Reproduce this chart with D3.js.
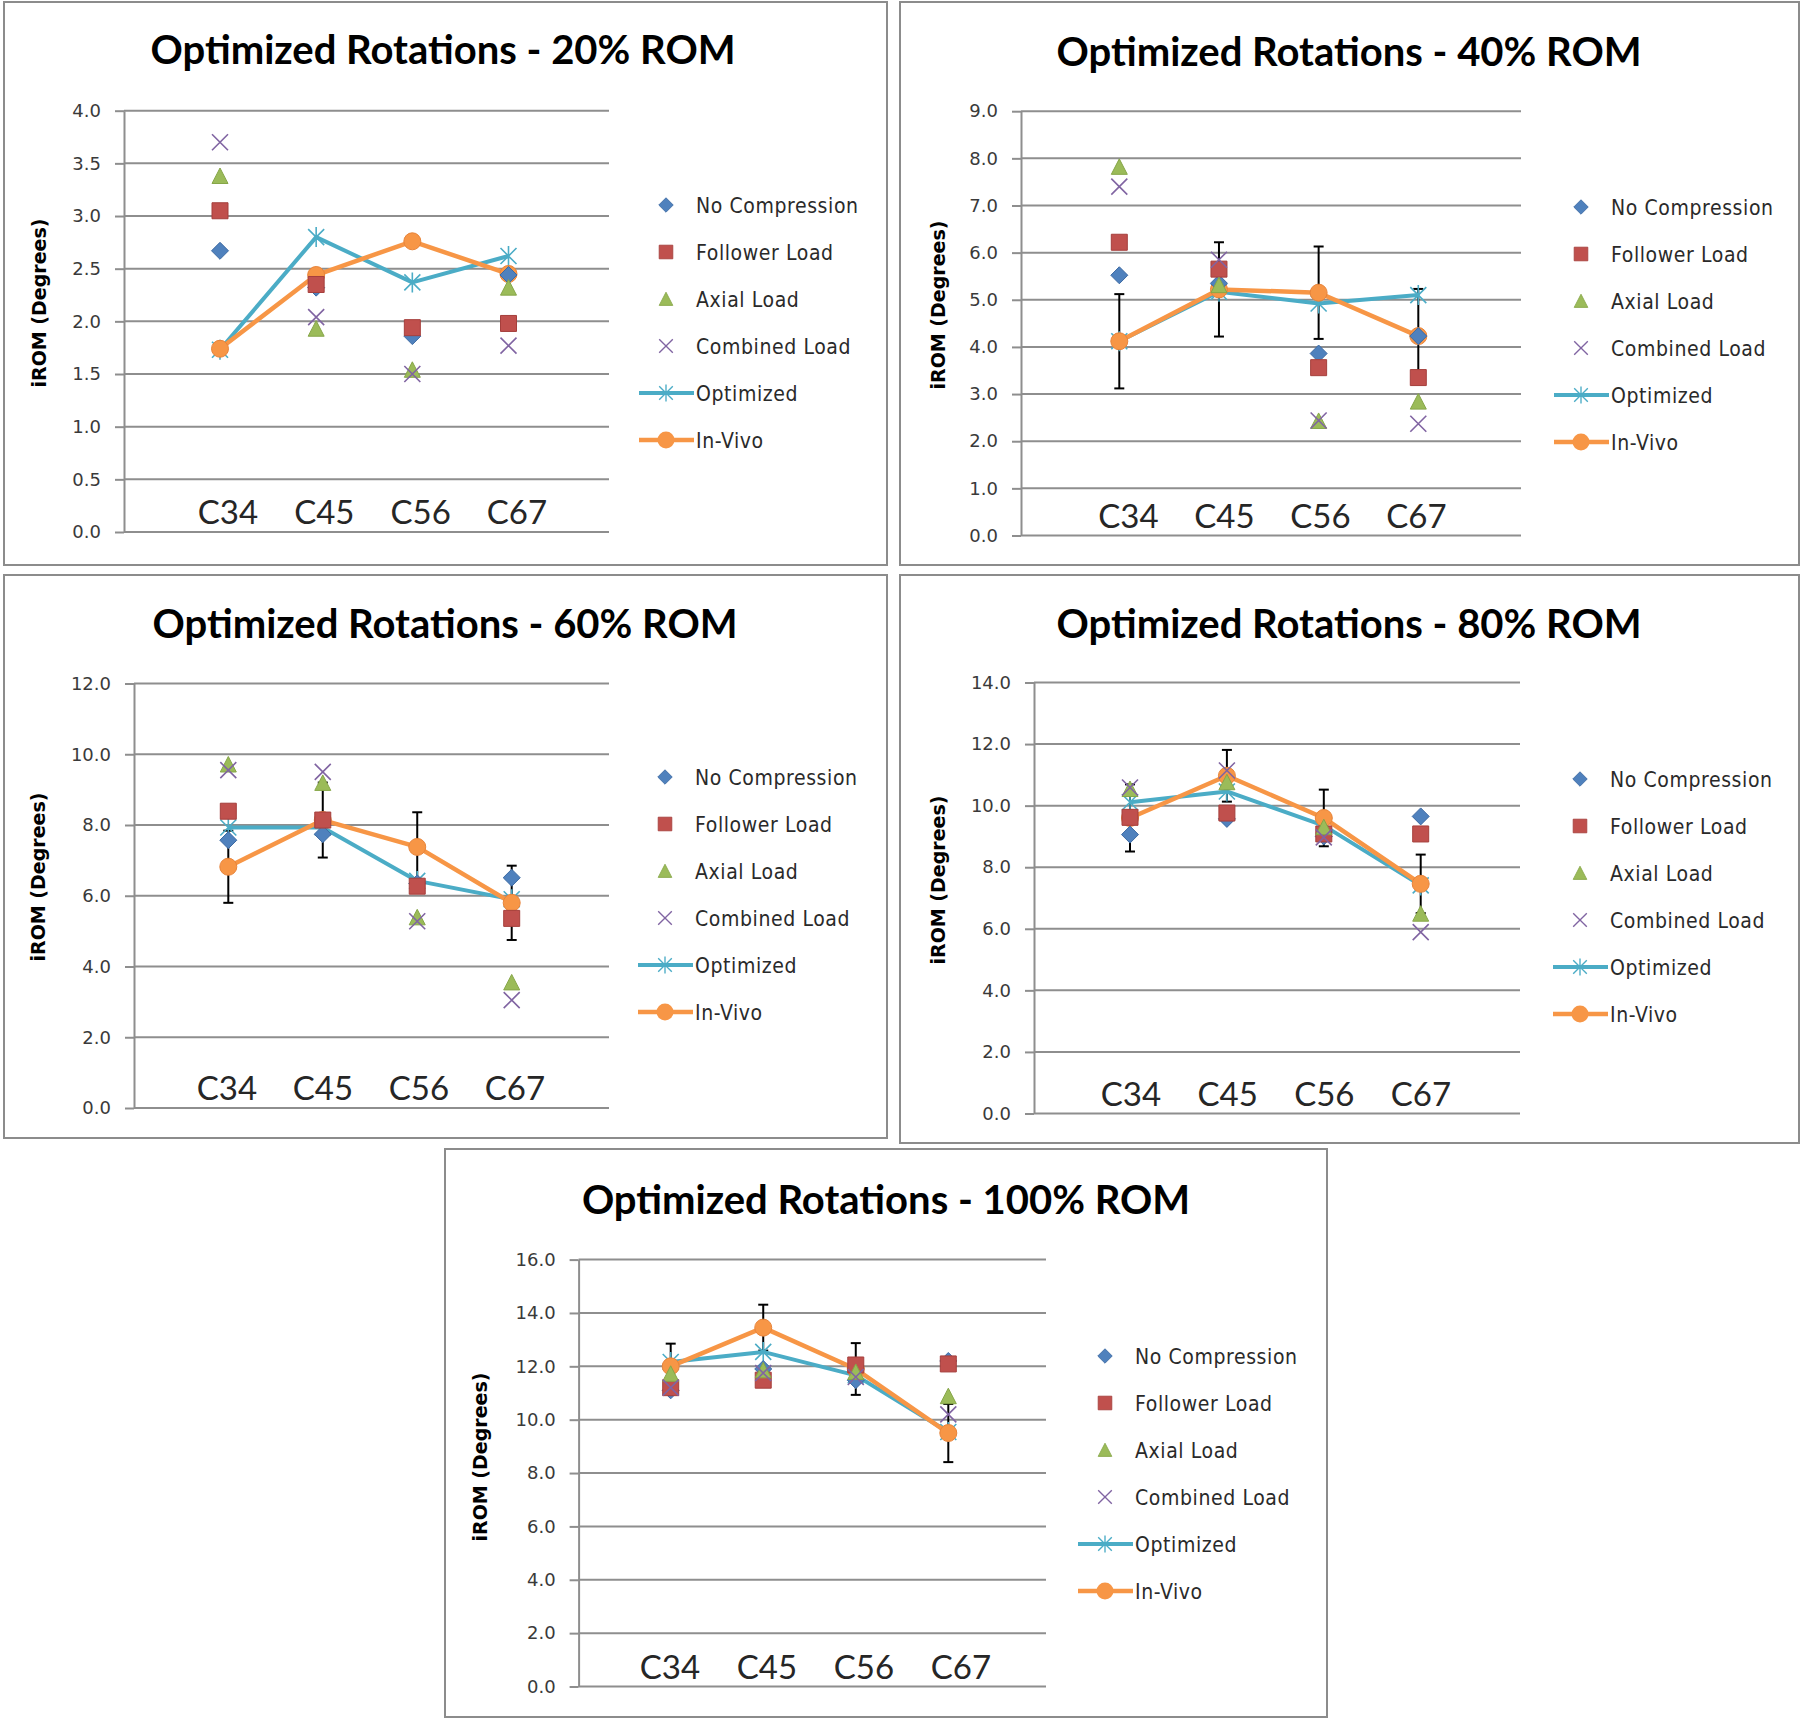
<!DOCTYPE html>
<html><head><meta charset="utf-8">
<script src="https://cdn.jsdelivr.net/npm/d3@7"></script>
<style>body{margin:0;background:#fff} svg{display:block}</style>
</head><body>
<svg id="chart" width="1800" height="1718"></svg>
<script>
// ---------- DATA ----------
const categories = ["C34", "C45", "C56", "C67"];
const romLevels = ["20%", "40%", "60%", "80%", "100%"];
const seriesNames = ["No Compression", "Follower Load", "Axial Load", "Combined Load", "Optimized", "In-Vivo"];
const yMax = [4, 9, 12, 14, 16];
const yStep = [0.5, 1, 2, 2, 2];

const noCompression = [[2.67, 2.32, 1.86, 2.44], [5.52, 5.35, 3.86, 4.23], [7.57, 7.74, 6.35, 6.51], [9.06, 9.57, 9.00, 9.65], [11.10, 11.90, 11.48, 12.20]];
const followerLoad  = [[3.05, 2.35, 1.94, 1.98], [6.22, 5.65, 3.56, 3.35], [8.39, 8.14, 6.27, 5.36], [9.62, 9.76, 9.08, 9.08], [11.20, 11.48, 12.05, 12.09]];
const axialLoad     = [[3.38, 1.93, 1.54, 2.32], [7.82, 5.31, 2.43, 2.84], [9.71, 9.19, 5.39, 3.55], [10.54, 10.76, 9.30, 6.49], [11.72, 11.85, 11.79, 10.88]];
const combinedLoad  = [[3.70, 2.04, 1.50, 1.77], [7.40, 5.85, 2.44, 2.37], [9.55, 9.50, 5.28, 3.05], [10.59, 11.14, 8.97, 5.89], [11.20, 11.75, 11.60, 10.20]];
const optimized     = [[1.73, 2.80, 2.37, 2.62], [4.12, 5.17, 4.92, 5.10], [7.93, 7.93, 6.42, 5.90], [10.11, 10.46, 9.35, 7.41], [12.16, 12.54, 11.66, 9.54]];
const inVivo        = [[1.74, 2.44, 2.76, 2.45], [4.12, 5.22, 5.15, 4.23], [6.82, 8.14, 7.38, 5.80], [9.60, 10.97, 9.60, 7.46], [12.00, 13.45, 11.90, 9.50]];
const inVivoError   = [null, [1.00, 1.00, 0.98, 1.00], [1.02, 1.06, 0.98, 1.05], [1.09, 0.84, 0.92, 0.95], [0.85, 0.86, 0.97, 1.09]];

// ---------- LAYOUT ----------
const panelBox   = [[4, 2, 887, 565], [900, 2, 1799, 565], [4, 575, 887, 1138], [900, 575, 1799, 1143], [445, 1149, 1327, 1717]];
const plotAxisX  = [124, 1021, 134, 1034, 578.6];
const plotRight  = [609, 1521, 609, 1520, 1046];
const plotTop    = [110.7, 111.2, 683.5, 682.5, 1259.6];
const plotBottom = [532, 535.5, 1108, 1113.5, 1686.5];
const catFirst   = [220, 1119.3, 228.3, 1130, 670.7];
const catLast    = [508.5, 1418.3, 511.7, 1420.7, 948.3];
const labelFirst = [228, 1128.5, 227, 1131, 670];
const labelLast  = [517, 1416.5, 515, 1421, 961];
const titleCx    = [443, 1349, 445, 1349, 886];
const titleBase  = [64, 66, 637.6, 637.5, 1214];
const yTitleX    = [39, 938, 38, 938, 480];
const yTitleCy   = [303, 305, 877, 880, 1457];
const legendX    = [666, 1581, 665, 1580, 1105];
const legendY0   = [205, 207, 777, 779, 1356];
const legendStep = 47;

const colors = {blue: "#4F81BD", red: "#C0504D", green: "#9BBB59", purple: "#8064A2", teal: "#4BACC6", orange: "#F79646"};

const shapes = {
  diamond: "M0,-8.5L8.5,0L0,8.5L-8.5,0Z",
  square: "M-8,-8H8V8H-8Z",
  triangle: "M0,-8L8,7.5L-8,7.5Z",
  cross: "M-8,-8L8,8M8,-8L-8,8",
  star: "M-8,-8L8,8M8,-8L-8,8M0,-10V10"
};

function drawMarker(sel, kind) {
  if (kind === "diamond") sel.attr("d", shapes.diamond).attr("fill", colors.blue).attr("stroke", "#3d6aa3").attr("stroke-width", 1);
  else if (kind === "square") sel.attr("d", shapes.square).attr("fill", colors.red).attr("stroke", "#a53f3c").attr("stroke-width", 1);
  else if (kind === "triangle") sel.attr("d", shapes.triangle).attr("fill", colors.green).attr("stroke", "#86a648").attr("stroke-width", 1);
  else if (kind === "cross") sel.attr("d", shapes.cross).attr("fill", "none").attr("stroke", colors.purple).attr("stroke-width", 1.6);
  else if (kind === "star") sel.attr("d", shapes.star).attr("fill", "none").attr("stroke", colors.teal).attr("stroke-width", 1.6);
}

const svg = d3.select("#chart");
svg.append("rect").attr("width", 1800).attr("height", 1718).attr("fill", "#fff");

romLevels.forEach((rom, p) => {
  const g = svg.append("g");
  const [bx0, by0, bx1, by1] = panelBox[p];
  g.append("rect").attr("x", bx0).attr("y", by0).attr("width", bx1 - bx0).attr("height", by1 - by0)
    .attr("fill", "#fff").attr("stroke", "#8c8c8c").attr("stroke-width", 2);

  const y = d3.scaleLinear().domain([0, yMax[p]]).range([plotBottom[p], plotTop[p]]);
  const x = d3.scalePoint().domain(categories).range([catFirst[p], catLast[p]]);
  const xLabel = d3.scalePoint().domain(categories).range([labelFirst[p], labelLast[p]]);
  const ticks = d3.range(0, yMax[p] + yStep[p] / 2, yStep[p]);

  // title
  g.append("text").attr("x", titleCx[p]).attr("y", titleBase[p]).attr("text-anchor", "middle")
    .attr("font-family", "Lato").attr("font-weight", "bold").attr("font-size", 40).attr("fill", "#000")
    .text("Optimized Rotations - " + rom + " ROM");

  // gridlines
  g.append("g").selectAll("line").data(ticks).join("line")
    .attr("x1", plotAxisX[p]).attr("x2", plotRight[p])
    .attr("y1", d => y(d)).attr("y2", d => y(d))
    .attr("stroke", "#8e8e8e").attr("stroke-width", 2);

  // y axis
  const ax = g.append("g").attr("transform", `translate(${plotAxisX[p]},0)`)
    .call(d3.axisLeft(y).tickValues(ticks).tickFormat(d3.format(".1f")).tickSize(9).tickSizeOuter(0).tickPadding(14));
  ax.select(".domain").attr("stroke", "#8e8e8e").attr("stroke-width", 2);
  ax.selectAll(".tick line").attr("stroke", "#8e8e8e").attr("stroke-width", 2);
  ax.selectAll("text").attr("font-family", "DejaVu Sans").attr("font-size", 18).attr("fill", "#3a3a3a");

  // y title
  g.append("text").attr("transform", `translate(${yTitleX[p]},${yTitleCy[p]}) rotate(-90)`)
    .attr("dy", "0.36em").attr("text-anchor", "middle")
    .attr("font-family", "DejaVu Sans").attr("font-weight", "bold").attr("font-size", 19).attr("fill", "#000")
    .text("iROM (Degrees)");

  // category labels
  g.append("g").selectAll("text").data(categories).join("text")
    .attr("x", d => xLabel(d)).attr("y", plotBottom[p] - 8).attr("text-anchor", "middle")
    .attr("font-family", "Lato").attr("font-size", 33).attr("fill", "#262626").text(d => d);

  const line = d3.line().x((d, i) => x(categories[i])).y(d => y(d));

  // error bars on In-Vivo
  if (inVivoError[p]) {
    const eb = g.append("g").attr("stroke", "#000").attr("stroke-width", 2);
    inVivo[p].forEach((v, i) => {
      const e = inVivoError[p][i], cx = x(categories[i]);
      eb.append("line").attr("x1", cx).attr("x2", cx).attr("y1", y(v - e)).attr("y2", y(v + e));
      eb.append("line").attr("x1", cx - 5).attr("x2", cx + 5).attr("y1", y(v - e)).attr("y2", y(v - e));
      eb.append("line").attr("x1", cx - 5).attr("x2", cx + 5).attr("y1", y(v + e)).attr("y2", y(v + e));
    });
  }

  // Optimized line
  g.append("path").datum(optimized[p]).attr("d", line).attr("fill", "none")
    .attr("stroke", colors.teal).attr("stroke-width", 4).attr("stroke-linejoin", "round");
  g.append("g").selectAll("path").data(optimized[p]).join("path")
    .attr("transform", (d, i) => `translate(${x(categories[i])},${y(d)})`).call(drawMarker, "star");

  // In-Vivo line
  g.append("path").datum(inVivo[p]).attr("d", line).attr("fill", "none")
    .attr("stroke", colors.orange).attr("stroke-width", 4.5).attr("stroke-linejoin", "round");
  g.append("g").selectAll("circle").data(inVivo[p]).join("circle")
    .attr("cx", (d, i) => x(categories[i])).attr("cy", d => y(d)).attr("r", 8.5)
    .attr("fill", colors.orange).attr("stroke", "#e8843a").attr("stroke-width", 1);

  // scatter series
  const scatter = [[noCompression, "diamond"], [followerLoad, "square"], [axialLoad, "triangle"], [combinedLoad, "cross"]];
  scatter.forEach(([arr, kind]) => {
    g.append("g").selectAll("path").data(arr[p]).join("path")
      .attr("transform", (d, i) => `translate(${x(categories[i])},${y(d)})`).call(drawMarker, kind);
  });

  // legend
  const kinds = ["diamond", "square", "triangle", "cross", "star", "circle"];
  seriesNames.forEach((name, k) => {
    const ly = legendY0[p] + k * legendStep, lx = legendX[p];
    const lg = g.append("g");
    if (k === 4 || k === 5) {
      lg.append("line").attr("x1", lx - 27).attr("x2", lx + 28).attr("y1", ly).attr("y2", ly)
        .attr("stroke", k === 4 ? colors.teal : colors.orange).attr("stroke-width", k === 4 ? 4 : 4.5);
    }
    if (k === 5) {
      lg.append("circle").attr("cx", lx).attr("cy", ly).attr("r", 8.5).attr("fill", colors.orange);
    } else {
      lg.append("path").attr("transform", `translate(${lx},${ly}) scale(0.85)`).call(drawMarker, kinds[k]);
    }
    lg.append("text").attr("x", lx + 30).attr("y", ly).attr("dy", "0.36em")
      .attr("font-family", "DejaVu Sans Condensed, DejaVu Sans").attr("font-stretch", "condensed")
      .attr("font-size", 21).attr("letter-spacing", 0.6).attr("fill", "#2a2a2a").text(name);
  });
});
</script>
</body></html>
